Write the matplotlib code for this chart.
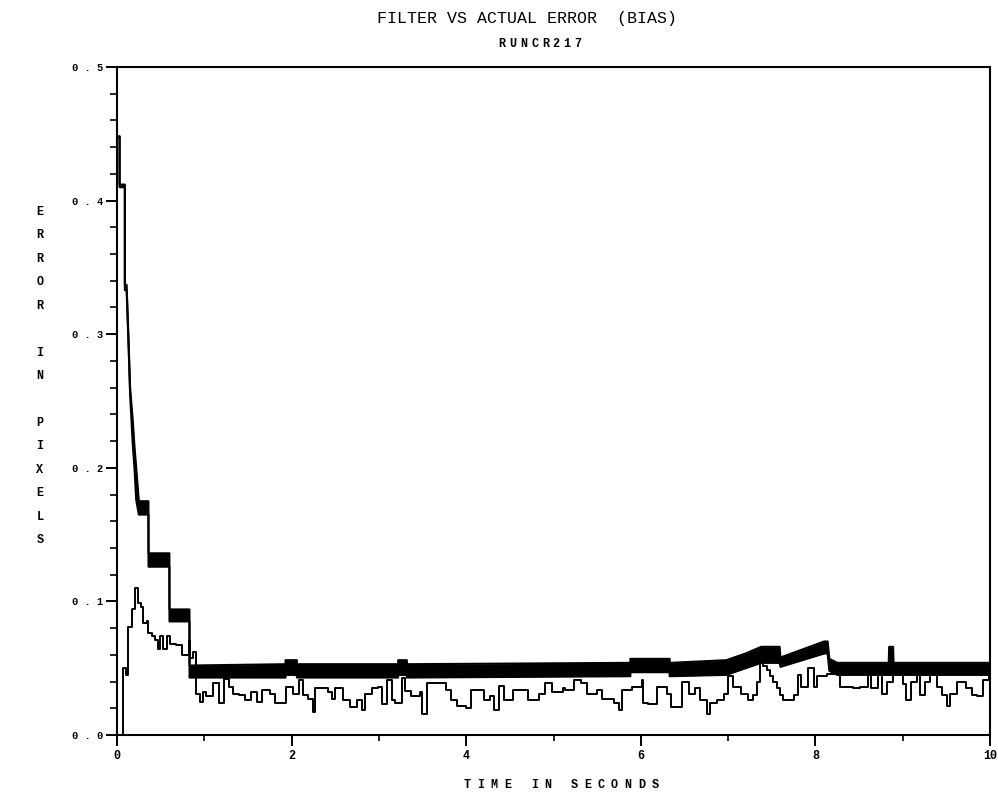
import matplotlib
matplotlib.use("Agg")
import matplotlib.pyplot as plt
from matplotlib.ticker import MultipleLocator, FixedLocator
import numpy as np

# ---------------- data ----------------
# "actual error" (thin stepped trace)
actual_t = [0.00, 0.07, 0.10, 0.13, 0.17, 0.21, 0.24, 0.28, 0.30, 0.34, 0.36, 0.40,
            0.44, 0.47, 0.49, 0.53, 0.57, 0.61, 0.68, 0.74, 0.82, 0.84, 0.87, 0.91,
            0.95, 0.98, 1.02, 1.10, 1.17, 1.23, 1.28, 1.33, 1.40, 1.47, 1.54, 1.60,
            1.66, 1.75, 1.81, 1.94, 2.02, 2.08, 2.13, 2.19, 2.24, 2.27, 2.42, 2.46,
            2.50, 2.59, 2.67, 2.75, 2.81, 2.84, 2.92, 2.99, 3.03, 3.09, 3.15, 3.18,
            3.26, 3.30, 3.37, 3.47, 3.49, 3.55, 3.77, 3.83, 3.89, 4.00, 4.06, 4.20,
            4.27, 4.32, 4.37, 4.43, 4.54, 4.71, 4.83, 4.90, 4.98, 5.11, 5.13, 5.23,
            5.32, 5.38, 5.50, 5.55, 5.69, 5.75, 5.78, 5.90, 6.01, 6.03, 6.08, 6.18,
            6.30, 6.35, 6.47, 6.55, 6.62, 6.68, 6.76, 6.79, 6.87, 6.95, 7.00, 7.06,
            7.15, 7.23, 7.29, 7.33, 7.37, 7.40, 7.44, 7.48, 7.52, 7.56, 7.60, 7.63,
            7.75, 7.80, 7.84, 7.92, 7.98, 8.02, 8.13, 8.21, 8.28, 8.43, 8.51, 8.60,
            8.64, 8.72, 8.76, 8.82, 8.89, 9.00, 9.04, 9.10, 9.16, 9.20, 9.26, 9.31,
            9.39, 9.45, 9.51, 9.54, 9.62, 9.73, 9.79, 9.85, 9.92, 9.99, 10.0]
actual_v = [0.000, 0.050, 0.045, 0.081, 0.094, 0.110, 0.099, 0.096, 0.084, 0.085, 0.076, 0.074,
            0.071, 0.064, 0.074, 0.064, 0.074, 0.068, 0.067, 0.060, 0.070, 0.058, 0.062, 0.031,
            0.025, 0.032, 0.029, 0.039, 0.024, 0.042, 0.036, 0.031, 0.030, 0.026, 0.032, 0.025,
            0.034, 0.031, 0.024, 0.036, 0.031, 0.041, 0.030, 0.027, 0.017, 0.035, 0.032, 0.027,
            0.035, 0.026, 0.021, 0.026, 0.019, 0.031, 0.035, 0.036, 0.023, 0.041, 0.026, 0.024,
            0.043, 0.033, 0.029, 0.032, 0.016, 0.039, 0.034, 0.026, 0.022, 0.020, 0.034, 0.026,
            0.029, 0.019, 0.037, 0.026, 0.034, 0.026, 0.031, 0.039, 0.032, 0.035, 0.034, 0.041,
            0.039, 0.031, 0.034, 0.027, 0.024, 0.019, 0.034, 0.036, 0.041, 0.024, 0.023, 0.036,
            0.031, 0.021, 0.040, 0.031, 0.035, 0.026, 0.016, 0.024, 0.026, 0.031, 0.044, 0.036,
            0.031, 0.026, 0.030, 0.040, 0.055, 0.052, 0.049, 0.044, 0.040, 0.035, 0.030, 0.026,
            0.030, 0.045, 0.036, 0.050, 0.036, 0.044, 0.046, 0.049, 0.036, 0.035, 0.036, 0.046,
            0.035, 0.046, 0.031, 0.040, 0.046, 0.038, 0.026, 0.040, 0.046, 0.030, 0.040, 0.046,
            0.036, 0.030, 0.022, 0.031, 0.040, 0.035, 0.030, 0.029, 0.041, 0.045, 0.045]

# "filter" error: band (low / high envelope of the fast ripple)
filter_t  = [0.000, 0.030, 0.030, 0.090, 0.090, 0.110, 0.130, 0.150, 0.180, 0.200, 0.220,
             0.250, 0.360, 0.361, 0.600, 0.601, 0.830, 0.831, 1.930, 1.931, 2.060, 2.061,
             3.220, 3.221, 3.320, 3.321, 5.880, 5.881, 6.330, 6.331, 6.980, 7.200, 7.380,
             7.590, 7.600, 8.100, 8.140, 8.160, 8.250, 8.840, 8.845, 8.890, 8.895, 10.00]
filter_lo = [0.448, 0.448, 0.410, 0.410, 0.333, 0.333, 0.296, 0.255, 0.218, 0.200, 0.176,
             0.165, 0.165, 0.126, 0.126, 0.085, 0.085, 0.043, 0.043, 0.045, 0.045, 0.043,
             0.043, 0.045, 0.045, 0.043, 0.044, 0.047, 0.047, 0.044, 0.045, 0.050, 0.054,
             0.054, 0.051, 0.061, 0.061, 0.048, 0.045, 0.045, 0.045, 0.045, 0.045, 0.045]
filter_hi = [0.448, 0.448, 0.412, 0.412, 0.337, 0.337, 0.300, 0.260, 0.236, 0.216, 0.200,
             0.175, 0.175, 0.136, 0.136, 0.094, 0.094, 0.052, 0.053, 0.056, 0.056, 0.053,
             0.053, 0.056, 0.056, 0.053, 0.054, 0.057, 0.057, 0.054, 0.056, 0.061, 0.066,
             0.066, 0.058, 0.070, 0.070, 0.057, 0.054, 0.054, 0.066, 0.066, 0.054, 0.054]

x_ticks = [0, 2, 4, 6, 8, 10]
x_tick_labels = ["0", "2", "4", "6", "8", "10"]
y_ticks = [0.0, 0.1, 0.2, 0.3, 0.4, 0.5]
y_tick_labels = ["0 . 0", "0 . 1", "0 . 2", "0 . 3", "0 . 4", "0 . 5"]

title_text = "FILTER VS ACTUAL ERROR  (BIAS)"
subtitle_text = "RUNCR217"
xlabel_text = "TIME IN SECONDS"
ylabel_text = "ERROR IN PIXELS"

# ---------------- figure ----------------
W, H = 998, 794
fig = plt.figure(figsize=(W / 100, H / 100), dpi=100)
fig.patch.set_facecolor("white")
L, R, B, T = 117, 990, 735, 67
ax = fig.add_axes([L / W, 1 - B / H, (R - L) / W, (B - T) / H])

MONO = ["Liberation Mono", "DejaVu Sans Mono"]

ax.fill_between(filter_t, filter_lo, filter_hi, color="black", lw=0)
ax.plot(filter_t, filter_lo, color="black", lw=1.5)
ax.plot(filter_t, filter_hi, color="black", lw=1.5)
ax.plot(actual_t, actual_v, color="black", lw=1.4, drawstyle="steps-post")

ax.set_xlim(0, 10)
ax.set_ylim(0, 0.5)
ax.xaxis.set_major_locator(FixedLocator(x_ticks))
ax.xaxis.set_minor_locator(MultipleLocator(1))
ax.yaxis.set_major_locator(FixedLocator(y_ticks))
ax.yaxis.set_minor_locator(MultipleLocator(0.02))
ax.set_xticklabels(x_tick_labels, fontfamily=MONO, fontweight="bold", fontsize=8.5)
ax.set_yticklabels(y_tick_labels, fontfamily=MONO, fontweight="bold", fontsize=7.5)
ax.tick_params(axis="x", which="major", direction="out", length=8, width=1.4, pad=3)
ax.tick_params(axis="x", which="minor", direction="out", length=4, width=1.2)
ax.tick_params(axis="y", which="major", direction="out", length=8, width=1.4, pad=2)
ax.tick_params(axis="y", which="minor", direction="out", length=5, width=1.2)
for s in ax.spines.values():
    s.set_linewidth(1.5)


def spaced(s, xc, y, pitch, **kw):
    n = len(s)
    for i, ch in enumerate(s):
        if ch == " ":
            continue
        fig.text((xc + (i - (n - 1) / 2) * pitch) / W, 1 - y / H, ch,
                 ha="center", va="center", fontfamily=MONO, **kw)


fig.text(527 / W, 1 - 18 / H, title_text, ha="center", va="center",
         fontfamily=MONO, fontsize=12)
spaced(subtitle_text, 540, 44, 10.8, fontsize=8.5, fontweight="bold")
spaced(xlabel_text, 561, 785, 13.4, fontsize=8.5, fontweight="bold")

# vertical stacked y label
words = ylabel_text.split(" ")
lines = []
for k, w in enumerate(words):
    if k:
        lines.append(" ")
    lines.extend(list(w))
y0, dy = 212, (540 - 212) / (len(lines) - 1)
for i, ch in enumerate(lines):
    if ch.strip():
        fig.text(40 / W, 1 - (y0 + i * dy) / H, ch, ha="center", va="center",
                 fontfamily=MONO, fontsize=8.5, fontweight="bold")

fig.savefig("out.png", dpi=100, facecolor="white")
